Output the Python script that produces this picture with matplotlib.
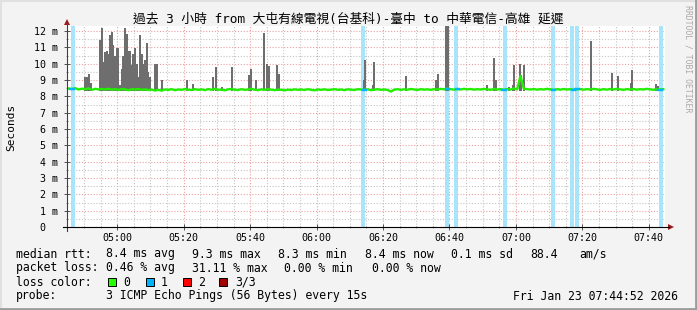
import pandas as pd
import matplotlib
matplotlib.use("Agg")
import matplotlib.pyplot as plt
import matplotlib.dates as mdates
from matplotlib.patches import Rectangle, Polygon

MONO = ['DejaVu Sans Mono', 'Noto Sans CJK TC']
plt.rcParams['font.family'] = MONO

# ---- data ----
start = pd.Timestamp("2026-01-23 04:44:52")
span_min = 180

# median rtt, one value per minute (ms)
median_ms = [
    8.48, 8.45, 8.50, 8.42, 8.47, 8.44, 8.49, 8.40, 8.46, 8.43,
    8.45, 8.42, 8.47, 8.41, 8.44, 8.40, 8.45, 8.43, 8.38, 8.44,
    8.42, 8.45, 8.40, 8.43, 8.39, 8.41, 8.36, 8.40, 8.35, 8.42,
    8.40, 8.44, 8.38, 8.42, 8.40, 8.45, 8.41, 8.39, 8.44, 8.40,
    8.43, 8.38, 8.44, 8.41, 8.46, 8.40, 8.42, 8.37, 8.43, 8.45,
    8.41, 8.39, 8.44, 8.40, 8.42, 8.46, 8.41, 8.38, 8.43, 8.40,
    8.44, 8.41, 8.38, 8.42, 8.40, 8.37, 8.41, 8.39, 8.43, 8.40,
    8.42, 8.39, 8.44, 8.40, 8.37, 8.42, 8.40, 8.43, 8.39, 8.41,
    8.44, 8.40, 8.42, 8.38, 8.43, 8.41, 8.39, 8.44, 8.42, 8.40,
    8.43, 8.38, 8.41, 8.44, 8.40, 8.42, 8.39, 8.30, 8.41, 8.44,
    8.40, 8.43, 8.41, 8.45, 8.42, 8.39, 8.44, 8.41, 8.43, 8.40,
    8.44, 8.42, 8.46, 8.43, 8.47, 8.44, 8.41, 8.45, 8.42, 8.46,
    8.43, 8.45, 8.41, 8.44, 8.42, 8.46, 8.43, 8.40, 8.45, 8.42,
    8.44, 8.41, 8.45, 8.42, 8.48, 8.43, 9.25, 8.47, 8.44, 8.42,
    8.45, 8.41, 8.44, 8.42, 8.46, 8.43, 8.40, 8.44, 8.41, 8.45,
    8.42, 8.44, 8.40, 8.43, 8.45, 8.41, 8.44, 8.42, 8.46, 8.43,
    8.40, 8.44, 8.41, 8.45, 8.42, 8.46, 8.43, 8.40, 8.44, 8.42,
    8.45, 8.41, 8.44, 8.42, 8.46, 8.43, 8.40, 8.45, 8.42, 8.44,
]

# minutes (from start) with 1 lost ping
loss_t = [1.8, 89.1, 114.4, 117.1, 131.8, 146.3, 152.0, 153.5, 178.8]

# smoke spikes: minute offset and top value (ms)
smoke_t = [5.4, 5.9, 6.6, 7.1, 9.9, 10.4, 10.9, 11.4, 11.9, 12.4, 12.9, 13.5,
           13.9, 14.4, 15.0, 15.4, 16.0, 16.5, 16.9, 17.5, 18.0, 18.5, 19.0,
           19.5, 20.0, 20.5, 21.0, 21.5, 22.0, 22.5, 23.0, 23.5, 24.0, 24.5,
           25.0, 26.5, 27.0, 28.5, 36.0, 37.8, 43.9, 44.8, 46.7, 49.7, 54.8,
           55.4, 56.9, 59.3, 60.2, 60.8, 63.2, 63.8, 89.4, 89.7, 92.1, 92.4,
           102.0, 111.1, 111.7, 114.1, 114.7, 126.4, 128.5, 129.1, 133.0,
           134.2, 134.5, 136.3, 136.7, 137.6, 157.7, 164.0, 165.9, 169.8,
           170.1, 177.3, 177.9]
smoke_top = [9.2, 9.2, 9.4, 8.8, 11.45, 12.17, 10.1, 10.7, 10.8, 10.6, 11.75,
             11.95, 11.15, 10.5, 10.95, 10.95, 8.7, 9.7, 10.5, 12.17, 11.85,
             10.8, 10.8, 9.9, 10.6, 10.95, 10.0, 9.2, 11.75, 10.6, 10.0, 10.25,
             11.25, 9.5, 9.2, 10.0, 10.0, 9.0, 9.0, 8.75, 9.2, 9.8, 8.6, 9.8,
             9.3, 9.7, 9.0, 11.9, 10.0, 9.85, 9.9, 9.4, 9.0, 10.2, 8.7, 10.1,
             9.25, 9.0, 9.4, 12.3, 12.3, 8.7, 10.35, 9.0, 8.6, 8.7, 9.9, 10.0,
             9.3, 9.9, 11.4, 9.45, 9.25, 8.8, 9.6, 8.75, 8.65]
smoke_floor = 8.33

y_ticks = [0, 1, 2, 3, 4, 5, 6, 7, 8, 9, 10, 11, 12]
y_labels = ["0  ", "1 m", "2 m", "3 m", "4 m", "5 m", "6 m", "7 m", "8 m",
            "9 m", "10 m", "11 m", "12 m"]
x_labels = ["05:00", "05:20", "05:40", "06:00", "06:20", "06:40", "07:00",
            "07:20", "07:40"]

title = "過去 3 小時 from 大屯有線電視(台基科)-臺中 to 中華電信-高雄 延遲"

legend_rows = [
    (254, [(16, "median rtt:"), (106, "8.4 ms avg"), (192, "9.3 ms max"),
           (278, "8.3 ms min"), (365, "8.4 ms now"), (451, "0.1 ms sd"),
           (530, "88.4"), (579, "am/s")]),
    (268, [(16, "packet loss:"), (106, "0.46 % avg"), (192, "31.11 % max"),
           (284, "0.00 % min"), (372, "0.00 % now")]),
    (282, [(16, "loss color:"), (123, "0"), (161, "1"), (198, "2"), (235, "3/3")]),
    (296, [(16, "probe:"), (106, "3 ICMP Echo Pings (56 Bytes) every 15s"),
           (513, "Fri Jan 23 07:44:52 2026")]),
]
loss_colors = ['#26ff00', '#00b4ff', '#ff0000', '#a00000']
loss_box_x = [108, 146, 183, 219]

# ---- figure ----
W, H = 697, 310
fig = plt.figure(figsize=(W / 100, H / 100), dpi=100, facecolor='#f3f3f3')
L, R, T, B = 67, 665, 26, 227
ax = fig.add_axes([L / W, 1 - B / H, (R - L) / W, (B - T) / H])
ax.set_facecolor('white')

def tnum(m):
    return mdates.date2num(start + pd.Timedelta(minutes=m))

x0, x1 = tnum(0), tnum(span_min)
day_per_min = 1 / 1440.0

# loss bands
for t in loss_t:
    ax.axvspan(tnum(t - 0.55), tnum(t + 0.55), color='#a8e4fa', lw=0, zorder=1)

# smoke
ax.bar([tnum(t) for t in smoke_t], [v - smoke_floor for v in smoke_top],
       bottom=smoke_floor, width=0.6 * day_per_min, color='#6e6e6e',
       lw=0, zorder=2)

# median line
mx = [tnum(i + 0.5) for i in range(len(median_ms))]
ax.plot(mx, median_ms, color='#22ee00', lw=1.7, zorder=3)
for t in loss_t:
    i = int(t)
    ax.plot([tnum(i), tnum(i + 1)], [median_ms[i], median_ms[i]],
            color='#00b4ff', lw=1.7, zorder=4)

ax.set_xlim(x0, x1)
ax.set_ylim(0, 12.31)

# grid
ax.set_yticks(y_ticks)
ax.set_yticklabels(y_labels)
ax.set_yticks([v + 0.5 for v in y_ticks[:-1]], minor=True)
xt = [mdates.date2num(pd.Timestamp("2026-01-23 " + s)) for s in x_labels]
ax.set_xticks(xt)
ax.set_xticklabels(x_labels)
ax.xaxis.set_minor_locator(mdates.MinuteLocator(byminute=range(0, 60, 5)))
ax.set_axisbelow(True)
ax.grid(which='major', color='#eea0a0', lw=0.8, ls=(0, (1, 1.6)))
ax.grid(which='minor', color='#c4c4c4', lw=0.8, ls=(0, (1, 1.6)))
ax.tick_params(which='major', direction='inout', length=4, width=0.7,
               color='#555555', labelsize=7.2, labelcolor='black')
ax.tick_params(which='minor', direction='inout', length=2, width=0.6,
               color='#888888')
ax.tick_params(axis='y', pad=4.5)
ax.tick_params(axis='x', pad=2.5)
for s in ax.spines.values():
    s.set_visible(False)

# ---- overlay in pixel coords ----
ov = fig.add_axes([0, 0, 1, 1])
ov.set_xlim(0, W)
ov.set_ylim(H, 0)
ov.axis('off')
ov.set_zorder(5)

# axis lines and arrows
ov.plot([L, L], [B + 4, T - 1], color='#404040', lw=0.8)
ov.plot([L - 4, R + 4], [B, B], color='black', lw=0.8)
ov.add_patch(Polygon([[L - 3, T - 1], [L + 3, T - 1], [L, T - 7]],
                     closed=True, color='#9b1c1c', lw=0))
ov.add_patch(Polygon([[R + 3, B - 3], [R + 3, B + 3], [R + 9, B]],
                     closed=True, color='#9b1c1c', lw=0))

# frame
ov.plot([0, W], [1, 1], color='#e0e0e0', lw=1.5)
ov.plot([1, 1], [0, H], color='#e0e0e0', lw=1.5)
ov.plot([0, W], [H - 1.5, H - 1.5], color='#9c9c9c', lw=2)
ov.plot([W - 1.5, W - 1.5], [0, H], color='#9c9c9c', lw=2)

ov.text(348, 19, title, ha='center', va='center', fontsize=9.2, family=MONO)
ov.text(11, 127, "Seconds", rotation=90, ha='center', va='center', fontsize=8)
ov.text(688, 5, "RRDTOOL / TOBI OETIKER", rotation=270, ha='center', va='top',
        fontsize=5.9, color='#aaaaaa')

for y, items in legend_rows:
    for x, s in items:
        ov.text(x, y, s, ha='left', va='center', fontsize=8.3)

for bx, c in zip(loss_box_x, loss_colors):
    ov.add_patch(Rectangle((bx, 278), 8, 8, facecolor=c, edgecolor='black', lw=0.7))

fig.savefig("out.png", dpi=100, facecolor=fig.get_facecolor())
